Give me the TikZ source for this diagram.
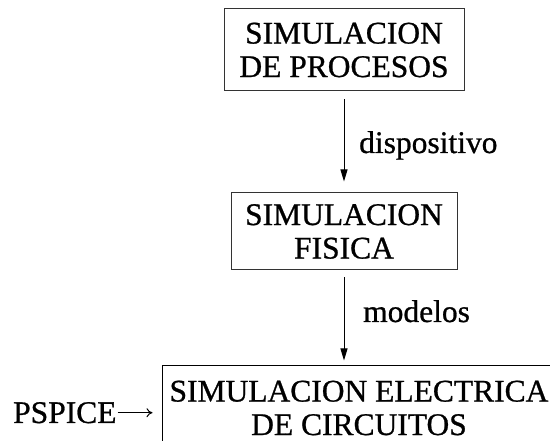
\documentclass[tikz,border=0pt]{standalone}
\usepackage{fontspec}
\setmainfont{Liberation Serif}[FakeBold=0.8]
\usetikzlibrary{arrows.meta}
\begin{document}
\begin{tikzpicture}[x=1pt,y=-1pt,
  txt/.style={font=\fontsize{31.5}{33.5}\selectfont},
  box/.style={txt, draw=black!80, line width=1pt, inner sep=0pt, align=center},
  lbl/.style={txt, inner sep=0pt, anchor=base west},
  flow/.style={-{Triangle[length=12pt,width=7pt]}, line width=1pt},
  side/.style={-{Computer Modern Rightarrow[length=6pt,width=9pt]}, line width=1pt}]
\clip (0,0) rectangle (550,441);
\node[box, minimum width=240pt, minimum height=82pt] (p) at (344,50) {SIMULACION\\DE PROCESOS};
\node[box, minimum width=226pt, minimum height=77pt] (f) at (344,231.5) {SIMULACION\\FISICA};
\node[box, draw=black, minimum width=394pt, minimum height=84pt] (c) at (359,408) {SIMULACION ELECTRICA\\DE CIRCUITOS};
\node[lbl] (d) at (359,153) {dispositivo};
\node[lbl] (m) at (363,322) {modelos};
\node[lbl] (s) at (13,423) {PSPICE};
\draw[flow, shorten <=8pt, shorten >=11pt] (p.south) -- (f.north);
\draw[flow, shorten <=7pt, shorten >=5pt] (f.south) -- (f.south |- c.north);
\draw[side, shorten <=1pt, shorten >=9pt] (s.east) -- (s.east -| c.west);
\end{tikzpicture}
\end{document}
